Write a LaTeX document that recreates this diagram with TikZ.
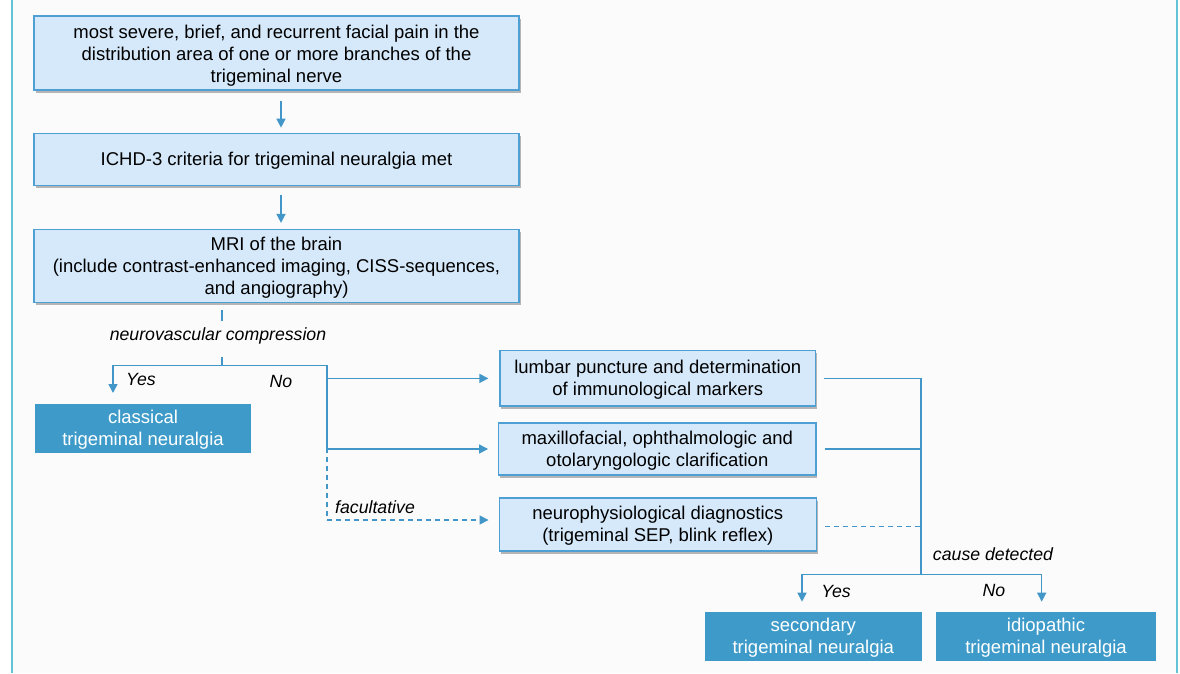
\documentclass[tikz,border=0pt]{standalone}
\usepackage{fontspec}
\setmainfont{Liberation Sans}
\usetikzlibrary{arrows.meta,calc,shadows}
\definecolor{boxfill}{RGB}{214,233,250}
\definecolor{boxborder}{RGB}{78,160,212}
\definecolor{darkfill}{RGB}{62,155,201}
\definecolor{linecol}{RGB}{66,150,200}
\definecolor{framecol}{RGB}{100,196,215}
\definecolor{bgcol}{RGB}{251,251,251}
\begin{document}
\begin{tikzpicture}[x=1pt,y=-1pt,
  lightbox/.style={draw=boxborder, fill=boxfill, line width=1.2pt, inner sep=0pt, align=center,
    font=\fontsize{18.5}{22}\selectfont,
    drop shadow={shadow xshift=1.5pt, shadow yshift=-2.5pt, opacity=0.4, fill=black!70}},
  darkbox/.style={fill=darkfill, inner sep=0pt, align=center, text=white,
    font=\fontsize{18.5}{22}\selectfont},
  lab/.style={inner sep=0pt, font=\fontsize{17.7}{21}\selectfont\itshape},
  line/.style={draw=linecol, line width=1.5pt},
  arr/.style={line, -{Triangle[length=9pt,width=9pt]}},
  dsh/.style={dash pattern=on 5pt off 4pt}]
\useasboundingbox (0,0) rectangle (1180,673);
\fill[bgcol] (12,0) rectangle (1177,673);
\draw[framecol, line width=1.5pt] (12,0) -- (12,673);
\draw[framecol, line width=1.5pt] (1177,0) -- (1177,673);

% top column
\node[lightbox, minimum width=485pt, minimum height=74pt] (b1) at (276.5,53)
  {\rule{0pt}{18pt}most severe, brief, and recurrent facial pain in the\\distribution area of one or more branches of the\\trigeminal nerve};
\node[lightbox, minimum width=485pt, minimum height=52.5pt] (b2) at (276.5,159.5)
  {\rule{0pt}{16pt}ICHD-3 criteria for trigeminal neuralgia met};
\node[lightbox, minimum width=485pt, minimum height=73pt] (b3) at (276.5,266)
  {\rule{0pt}{17pt}MRI of the brain\\(include contrast-enhanced imaging, CISS-sequences,\\and angiography)};

\draw[arr] ($(b1.south)+(4.5,10)$) -- ($(b2.north)+(4.5,-5)$);
\draw[arr] ($(b2.south)+(4.5,9)$) -- ($(b3.north)+(4.5,-6)$);

% neurovascular compression branch
\node[lab] (nvc) at (218,336) {neurovascular compression};
\coordinate (n1) at (222,310);
\coordinate (n2) at (222,321);
\coordinate (n3) at (222,357);
\coordinate (split) at (222,365.7);
\coordinate (yesend) at (113,393);
\coordinate (nobr) at (327,365.7);
\coordinate (nodash) at (327,448);
\coordinate (dashend) at (327,520);
\draw[line] (n1) -- (n2);
\draw[line] (n3) -- (split);
\draw[arr] (split) -| (yesend);
\draw[line] (split) -- (nobr) -- (nodash);
\draw[line, dsh] (nodash) -- (dashend);
\node[lab] (yes1) at (141,379) {Yes};
\node[lab] (no1) at (281,381) {No};

\node[darkbox, minimum width=216pt, minimum height=48.5pt] (cl) at (143,428.3)
  {\rule{0pt}{16pt}classical\\trigeminal neuralgia};

% middle column
\node[lightbox, minimum width=315.7pt, minimum height=55.3pt] (lum) at (657.8,378.4)
  {\rule{0pt}{16pt}lumbar puncture and determination\\of immunological markers};
\node[lightbox, minimum width=317.3pt, minimum height=52pt] (max) at (657.3,449)
  {\rule{0pt}{16pt}maxillofacial, ophthalmologic and\\otolaryngologic clarification};
\node[lightbox, minimum width=317.3pt, minimum height=53pt] (neu) at (657.8,524.5)
  {\rule{0pt}{16pt}neurophysiological diagnostics\\(trigeminal SEP, blink reflex)};

\draw[arr, shorten >=11pt] (nobr |- lum.west) -- (lum.west);
\draw[arr, shorten >=10pt] (nobr |- max.west) -- (max.west);
\draw[line, dsh, -{Triangle[length=9pt,width=9pt]}] (dashend) -- ($(neu.west)+(-10,-4.5)$);
\node[lab] (fac) at (375,507) {facultative};

% right join
\coordinate (join) at (921,574.3);
\coordinate (jl) at (802,574.3);
\coordinate (jr) at (1041.7,574.3);
\draw[line, shorten <=8pt] (lum.east) -- (lum.east -| join) -- (join);
\draw[line, shorten <=8pt] (max.east) -- (max.east -| join);
\draw[line, dsh, shorten <=8pt] ($(neu.east)+(0,2.2)$) -- ($(neu.east -| join)+(0,2.2)$);
\draw[arr] (join) -- (jl) -- ++(0,27.4);
\draw[arr] (join) -- (jr) -- ++(0,27.4);
\node[lab] (cause) at (993,554) {cause detected};
\node[lab] (yes2) at (836,591) {Yes};
\node[lab] (no2) at (994,590) {No};

\node[darkbox, minimum width=216.7pt, minimum height=49pt] (sec) at (813.3,636.2)
  {\rule{0pt}{16pt}secondary\\trigeminal neuralgia};
\node[darkbox, minimum width=220pt, minimum height=49pt] (idi) at (1046,636.2)
  {\rule{0pt}{16pt}idiopathic\\trigeminal neuralgia};
\end{tikzpicture}
\end{document}
